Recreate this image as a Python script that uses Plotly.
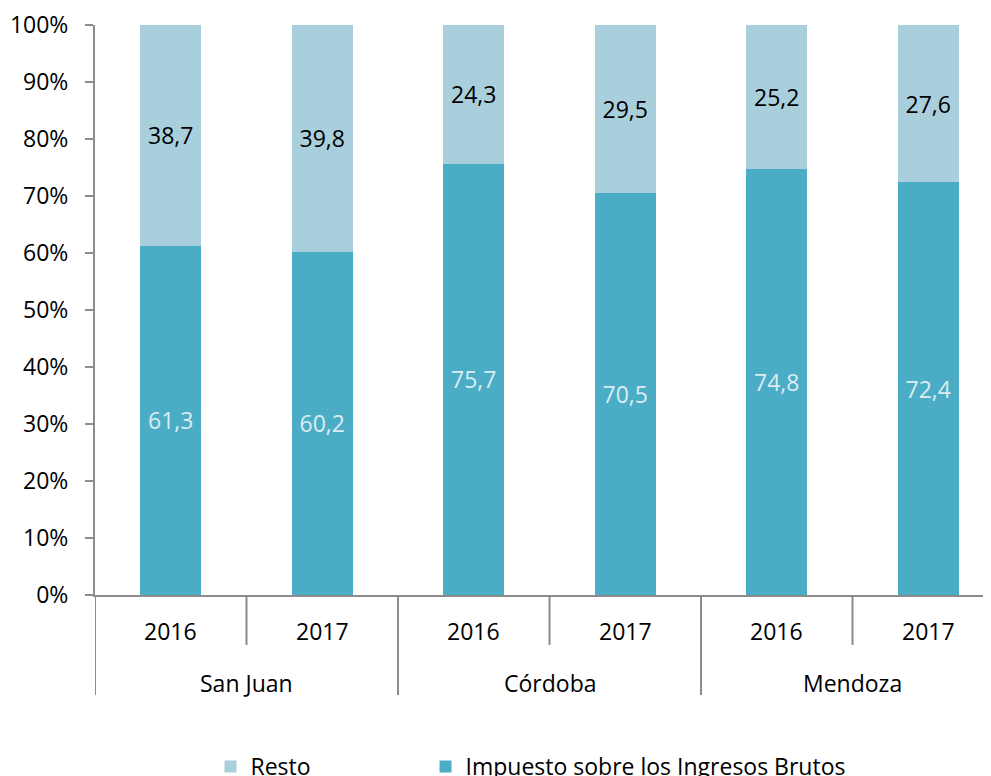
import plotly.graph_objects as go

provinces = ["San Juan", "Córdoba", "Mendoza"]
years = ["2016", "2017", "2016", "2017", "2016", "2017"]
impuesto = [61.3, 60.2, 75.7, 70.5, 74.8, 72.4]
resto = [38.7, 39.8, 24.3, 29.5, 25.2, 27.6]
y_ticks = [0, 10, 20, 30, 40, 50, 60, 70, 80, 90, 100]

FONT = "Open Sans"
FS = 23
AX = "#8c8c8c"
x = list(range(len(years)))

def fmt(v):
    return f"{v:.1f}".replace(".", ",")

fig = go.Figure()
fig.add_trace(go.Bar(
    x=x, y=impuesto, name="Impuesto sobre los Ingresos Brutos",
    marker=dict(color="#4BACC6", line=dict(width=0)), width=0.4,
    text=[fmt(v) for v in impuesto], textposition="inside",
    insidetextanchor="middle", textangle=0,
    textfont=dict(color="#dcecf2", size=FS, family=FONT),
    hoverinfo="skip", legend="legend2",
))
fig.add_trace(go.Bar(
    x=x, y=resto, name="Resto",
    marker=dict(color="#A9CFDD", line=dict(width=0)), width=0.4,
    text=[fmt(v) for v in resto], textposition="inside",
    insidetextanchor="middle", textangle=0,
    textfont=dict(color="#000000", size=FS, family=FONT),
    hoverinfo="skip", legend="legend",
))

shapes = []
annotations = []
for i in range(len(years)):
    left = i - 0.5
    long_line = (i % 2 == 0)
    shapes.append(dict(type="line", xref="x", yref="paper", x0=left, x1=left,
                       y0=0, y1=(-100 / 570) if long_line else (-50 / 570),
                       line=dict(color=AX, width=2)))
    annotations.append(dict(x=i, y=-36 / 570, xref="x", yref="paper",
                            yanchor="middle", xanchor="center",
                            text=years[i], showarrow=False,
                            font=dict(size=FS, family=FONT, color="#000000")))
for g, p in enumerate(provinces):
    annotations.append(dict(x=2 * g + 0.5, y=-88 / 570, xref="x", yref="paper",
                            yanchor="middle", xanchor="center",
                            text=p, showarrow=False,
                            font=dict(size=FS, family=FONT, color="#000000")))

legend_common = dict(orientation="h", y=-150 / 570, xanchor="left",
                     yanchor="top", bgcolor="rgba(0,0,0,0)",
                     font=dict(size=FS, family=FONT, color="#000000"))

fig.update_layout(
    barmode="stack",
    width=983, height=768,
    margin=dict(l=87, r=0, t=17, b=181, autoexpand=False),
    paper_bgcolor="white", plot_bgcolor="white",
    font=dict(family=FONT, size=FS, color="#000000"),
    showlegend=True,
    legend=dict(x=0.1289, **legend_common),
    legend2=dict(x=0.3689, **legend_common),
    shapes=shapes,
    annotations=annotations,
    uniformtext=dict(minsize=8, mode="show"),
)
fig.update_xaxes(range=[-0.5, 5.5 - 13 / 151.5], showticklabels=False,
                 showline=True, linecolor=AX, linewidth=2, ticks="",
                 showgrid=False, zeroline=False, fixedrange=True)
fig.update_yaxes(range=[0, 100], tickmode="array", tickvals=y_ticks,
                 ticktext=[f"{v}%" for v in y_ticks],
                 showline=True, linecolor=AX, linewidth=2,
                 ticks="outside", ticklen=8, tickcolor=AX, tickwidth=2,
                 ticklabelstandoff=12, showgrid=False, zeroline=False,
                 tickfont=dict(size=FS, family=FONT))

fig.write_html("out.html")
